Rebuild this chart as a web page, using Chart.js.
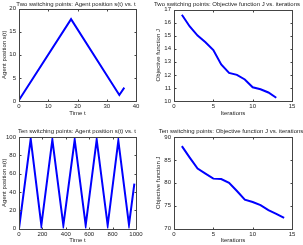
<!DOCTYPE html>
<html>
<head>
<meta charset="utf-8">
<script src="https://cdn.jsdelivr.net/npm/chart.js@4.4.1/dist/chart.umd.min.js"></script>
<style>
  html, body { margin: 0; padding: 0; background: #fff; }
  body { width: 303px; height: 245px; position: relative; overflow: hidden; }
  canvas { position: absolute; }
</style>
</head>
<body>
<canvas id="c1" width="152" height="122" style="left:0;top:0"></canvas>
<canvas id="c2" width="151" height="122" style="left:152px;top:0"></canvas>
<canvas id="c3" width="152" height="123" style="left:0;top:122px"></canvas>
<canvas id="c4" width="151" height="123" style="left:152px;top:122px"></canvas>
<script>
// two switching points: agent position vs time
var twoTime = [0, 17.8, 34.3, 36];
var twoPos = [0.2, 17.7, 1.3, 2.9];
// two switching points: objective J per iteration
var twoIter = [1, 2, 3, 4, 5, 6, 7, 8, 9, 10, 11, 12, 13];
var twoJ = [16.6, 15.7, 15.0, 14.5, 13.9, 12.8, 12.15, 12.0, 11.65, 11.05, 10.9, 10.65, 10.25];
// ten switching points: agent position vs time
var tenTime = [0, 100, 191, 285, 379, 476, 570, 664, 758, 849, 940, 986];
var tenPos = [0, 98, 3.5, 97, 3.5, 97, 3.5, 97, 3.5, 96, 4, 49];
// ten switching points: objective J per iteration
var tenIter = [1, 2, 3, 4, 5, 6, 7, 8, 9, 10, 11, 12, 13, 14];
var tenJ = [88.0, 85.5, 83.1, 82.0, 80.9, 80.8, 80.0, 78.2, 76.3, 75.8, 75.1, 74.0, 73.2, 72.3];

var FONT = 'Liberation Sans, Arial, sans-serif';
var TXT = '#222';

function pts(xs, ys) {
  return xs.map(function (x, i) { return { x: x, y: ys[i] }; });
}

// box round the axes, inward ticks and the title
var matlabAxes = {
  id: 'matlabAxes',
  afterDraw: function (chart, args, opts) {
    var ctx = chart.ctx, a = chart.chartArea;
    var sx = chart.scales.x, sy = chart.scales.y;
    ctx.save();
    ctx.strokeStyle = '#444';
    ctx.lineWidth = 1;
    var l = Math.round(a.left) + 0.5, r = Math.round(a.right) + 0.5;
    var t = Math.round(a.top) + 0.5, b = Math.round(a.bottom) + 0.5;
    ctx.strokeRect(l, t, r - l, b - t);
    ctx.beginPath();
    sx.ticks.forEach(function (tk) {
      var px = Math.round(sx.getPixelForValue(tk.value)) + 0.5;
      ctx.moveTo(px, b); ctx.lineTo(px, b - 2);
      ctx.moveTo(px, t); ctx.lineTo(px, t + 2);
    });
    sy.ticks.forEach(function (tk) {
      var py = Math.round(sy.getPixelForValue(tk.value)) + 0.5;
      ctx.moveTo(l, py); ctx.lineTo(l + 2, py);
      ctx.moveTo(r, py); ctx.lineTo(r - 2, py);
    });
    ctx.stroke();
    ctx.fillStyle = TXT;
    ctx.font = opts.size + 'px ' + FONT;
    ctx.textAlign = 'center';
    ctx.textBaseline = 'middle';
    ctx.fillText(opts.text, opts.x, opts.y);
    ctx.restore();
  }
};

function plain(v) { return String(v); }

function makeChart(id, cfg) {
  new Chart(document.getElementById(id), {
    type: 'line',
    data: {
      datasets: [{
        data: cfg.data,
        borderColor: '#0000ff',
        borderWidth: 2,
        pointRadius: 0,
        tension: 0,
        fill: false
      }]
    },
    options: {
      responsive: false,
      animation: false,
      devicePixelRatio: 1,
      layout: { padding: { top: cfg.top, right: cfg.right, left: 0, bottom: 0 } },
      plugins: {
        legend: { display: false },
        title: { display: false },
        tooltip: { enabled: false },
        matlabAxes: { text: cfg.title, x: cfg.titleX, y: cfg.titleY, size: 6 }
      },
      scales: {
        x: {
          type: 'linear',
          min: cfg.xMin, max: cfg.xMax,
          grid: { display: false, drawTicks: false },
          border: { display: false },
          ticks: { stepSize: cfg.xStep, callback: plain, color: TXT, font: { family: FONT, size: 6 }, padding: 2, maxRotation: 0, autoSkip: false },
          title: { display: true, text: cfg.xTitle, color: TXT, font: { family: FONT, size: 6 }, padding: { top: 0, bottom: cfg.xTitlePad } },
          afterFit: function (s) { s.height = cfg.xH; }
        },
        y: {
          type: 'linear',
          min: cfg.yMin, max: cfg.yMax,
          grid: { display: false, drawTicks: false },
          border: { display: false },
          ticks: { stepSize: cfg.yStep, callback: plain, color: TXT, font: { family: FONT, size: 6 }, padding: 3 },
          title: { display: true, text: cfg.yTitle, color: TXT, font: { family: FONT, size: 6 }, padding: { top: cfg.yTitlePad, bottom: 0 } },
          afterFit: function (s) { s.width = cfg.yW; }
        }
      }
    },
    plugins: [matlabAxes]
  });
}

makeChart('c1', {
  data: pts(twoTime, twoPos), title: 'Two switching points: Agent position s(t) vs. t', titleX: 76, titleY: 4,
  xMin: 0, xMax: 40, xStep: 10, yMin: 0, yMax: 20, yStep: 5,
  xTitle: 'Time t', yTitle: 'Agent position s(t)',
  top: 8.5, right: 16, xH: 21, yW: 19, xTitlePad: 5, yTitlePad: 1
});
makeChart('c2', {
  data: pts(twoIter, twoJ), title: 'Two switching points: Objective function J vs. iterations', titleX: 75, titleY: 4,
  xMin: 0, xMax: 15, xStep: 5, yMin: 10, yMax: 17, yStep: 1,
  xTitle: 'Iterations', yTitle: 'Objective function J',
  top: 9.5, right: 11, xH: 21, yW: 22, xTitlePad: 5, yTitlePad: 3
});
makeChart('c3', {
  data: pts(tenTime, tenPos), title: 'Ten switching points: Agent position s(t) vs. t', titleX: 77, titleY: 9,
  xMin: 0, xMax: 1000, xStep: 200, yMin: 0, yMax: 100, yStep: 20,
  xTitle: 'Time t', yTitle: 'Agent position s(t)',
  top: 15, right: 16, xH: 16.5, yW: 19, xTitlePad: 1, yTitlePad: 1
});
makeChart('c4', {
  data: pts(tenIter, tenJ), title: 'Ten switching points: Objective function J vs. iterations', titleX: 79, titleY: 9.5,
  xMin: 0, xMax: 15, xStep: 5, yMin: 70, yMax: 90, yStep: 5,
  xTitle: 'Iterations', yTitle: 'Objective function J',
  top: 15, right: 11, xH: 16.5, yW: 22, xTitlePad: 1, yTitlePad: 3
});
</script>
</body>
</html>
